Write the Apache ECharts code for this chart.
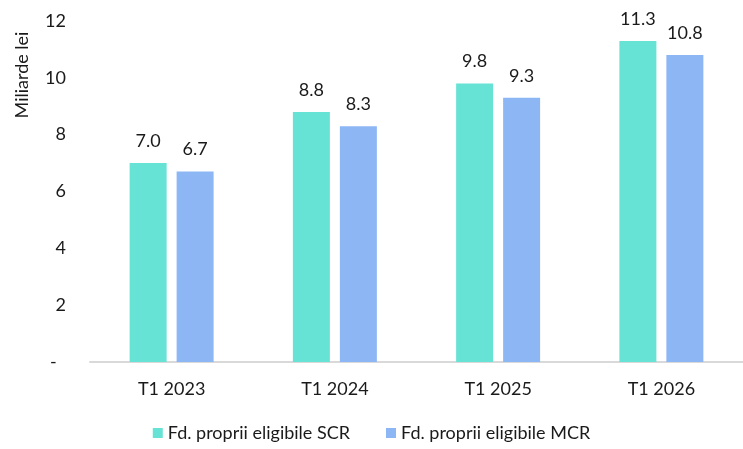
<!DOCTYPE html>
<html><head><meta charset="utf-8">
<script src="https://cdn.jsdelivr.net/npm/echarts@6/dist/echarts.min.js"></script>
<style>html,body{margin:0;padding:0;background:#fff}#c{width:743px;height:449px}</style>
</head><body><div id="c"></div>
<script>
const categories = ['T1 2023', 'T1 2024', 'T1 2025', 'T1 2026'];
const seriesNames = ['Fd. proprii eligibile SCR', 'Fd. proprii eligibile MCR'];
const scrValues = [7.0, 8.8, 9.8, 11.3];
const mcrValues = [6.7, 8.3, 9.3, 10.8];
const yTicks = [0, 2, 4, 6, 8, 10, 12];
const yName = 'Miliarde lei';

const FONT = 'Lato';
const FS = 18;
const chart = echarts.init(document.getElementById('c'), null, {renderer: 'canvas'});
chart.setOption({
  animation: false,
  textStyle: {fontFamily: FONT},
  grid: {left: 90, right: -7, top: 21, bottom: 87, containLabel: false},
  legend: {
    data: seriesNames, bottom: 2, left: 'center', itemWidth: 10, itemHeight: 10, itemGap: 36,
    icon: 'rect', textStyle: {fontFamily: FONT, fontSize: FS, color: '#1a1a1a'}
  },
  graphic: [{
    type: 'text', x: 22, y: 75, rotation: Math.PI / 2,
    style: {text: yName, fontFamily: FONT, fontSize: FS, fill: '#1a1a1a', align: 'center', verticalAlign: 'middle'}
  }],
  xAxis: {
    type: 'category', data: categories,
    axisLine: {lineStyle: {color: '#d9d9d9', width: 2}},
    axisTick: {show: false},
    axisLabel: {fontFamily: FONT, fontSize: FS, color: '#1a1a1a', margin: 18}
  },
  yAxis: {
    type: 'value', min: yTicks[0], max: yTicks[yTicks.length - 1], interval: 2,
    splitLine: {show: false}, axisLine: {show: false}, axisTick: {show: false},
    axisLabel: {fontFamily: FONT, fontSize: FS, color: '#1a1a1a', margin: 24,
      formatter: v => v === 0 ? '-  ' : String(v)}
  },
  series: [
    {name: seriesNames[0], type: 'bar', data: scrValues, barWidth: 37, barGap: '27%',
     itemStyle: {color: '#66E3D5'},
     label: {show: true, position: 'top', distance: 13, formatter: p => p.value.toFixed(1),
       fontFamily: FONT, fontSize: FS, color: '#1a1a1a'}},
    {name: seriesNames[1], type: 'bar', data: mcrValues, barWidth: 37,
     itemStyle: {color: '#8DB6F5'},
     label: {show: true, position: 'top', distance: 13, formatter: p => p.value.toFixed(1),
       fontFamily: FONT, fontSize: FS, color: '#1a1a1a'}}
  ]
});
</script></body></html>
